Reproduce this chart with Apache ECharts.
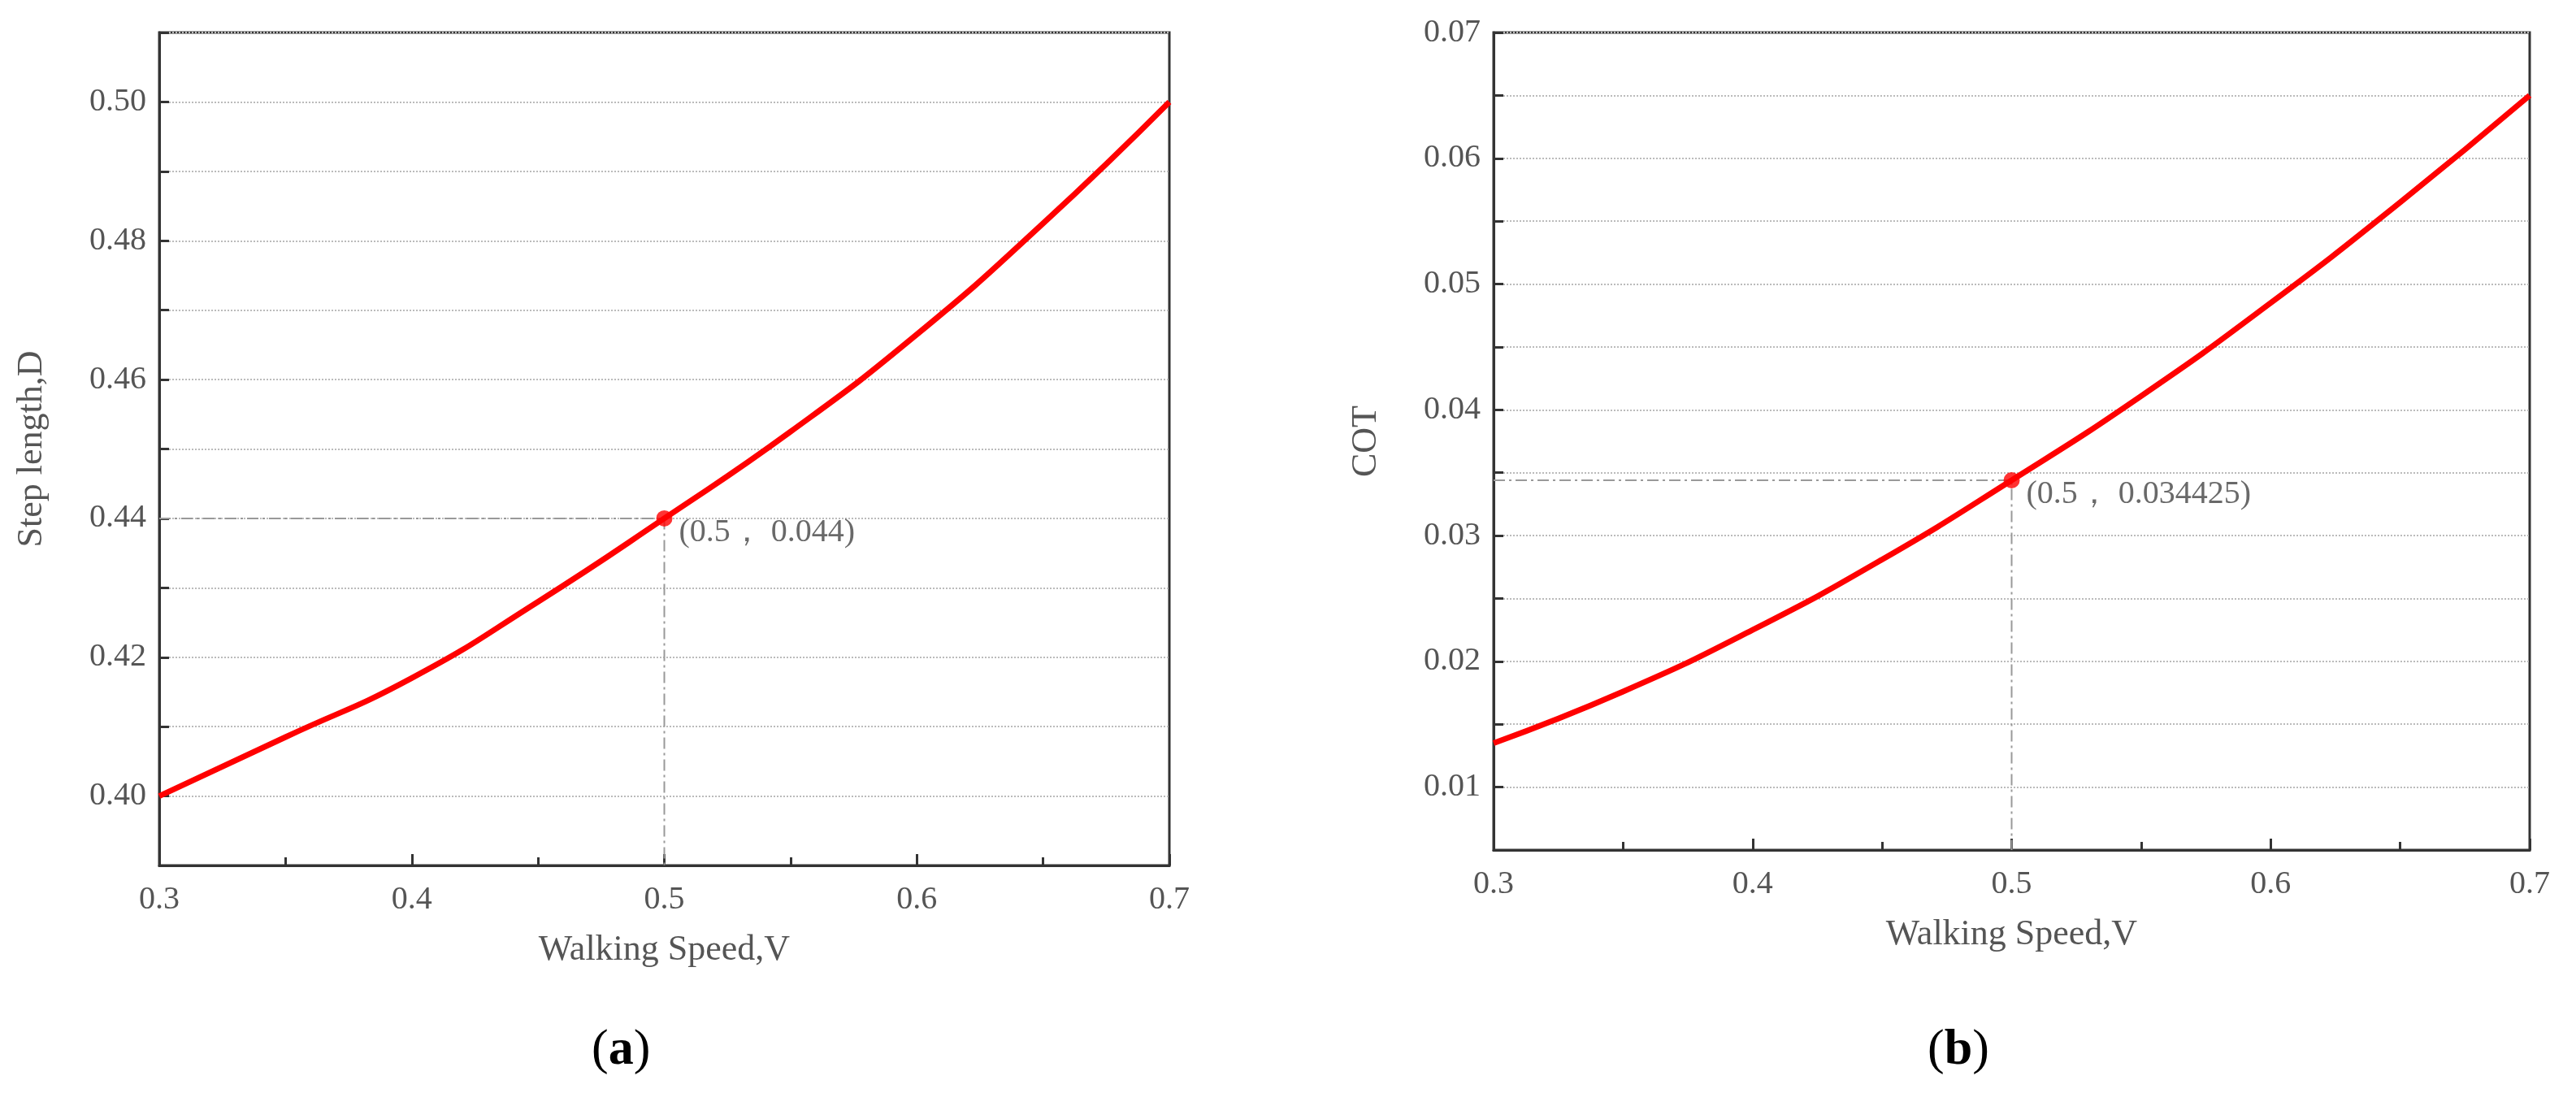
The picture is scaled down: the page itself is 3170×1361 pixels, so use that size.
<!DOCTYPE html>
<html lang="en">
<head>
  <meta charset="UTF-8">
  <title>Step length and COT</title>
  <script src="https://cdn.jsdelivr.net/npm/echarts@6.0.0/dist/echarts.min.js"></script>
  <style>html,body{margin:0;background:#fff;} #main{width:3170px;height:1361px;}</style>
</head>
<body>
  <div id="main"></div>
  <script type="text/javascript">
    var speed = [0.3, 0.35, 0.4, 0.45, 0.5, 0.55, 0.6, 0.65, 0.7];
    var stepLength = [0.400, 0.4085, 0.4170, 0.4280, 0.440, 0.4525, 0.4665, 0.4825, 0.500];
    var cot = [0.0135, 0.0176, 0.0225, 0.0281, 0.0344, 0.0411, 0.0485, 0.0565, 0.065];
    var stepTicks = [0.40, 0.42, 0.44, 0.46, 0.48, 0.50];
    var stepMinor = [0.39, 0.40, 0.41, 0.42, 0.43, 0.44, 0.45, 0.46, 0.47, 0.48, 0.49, 0.50, 0.51];
    var cotTicks = [0.01, 0.02, 0.03, 0.04, 0.05, 0.06, 0.07];
    var cotMinor = [0.01, 0.015, 0.02, 0.025, 0.03, 0.035, 0.04, 0.045, 0.05, 0.055, 0.06, 0.065, 0.07];
    var markA = [0.5, 0.44];
    var markB = [0.5, 0.0344];

    var font = 'Liberation Serif';
    var gray = '#555';

    function zip(xs, ys) {
      return xs.map(function (x, i) { return [x, ys[i]]; });
    }

    function xAxis(idx) {
      return {
        gridIndex: idx, type: 'value', min: 0.3, max: 0.7, interval: 0.1,
        name: 'Walking Speed,V', nameLocation: 'middle', nameGap: 82,
        nameTextStyle: { fontFamily: font, fontSize: 44, color: gray },
        axisLine: { lineStyle: { color: '#333', width: 3 } },
        axisTick: { inside: true, length: 14, lineStyle: { color: '#333', width: 3 } },
        minorTick: { show: true, splitNumber: 2, length: 10, lineStyle: { color: '#333', width: 3 } },
        axisLabel: { fontFamily: font, fontSize: 40, color: gray, margin: 22,
          formatter: function (v) { return v.toFixed(1); } },
        splitLine: { show: false }
      };
    }

    function yAxis(idx, name, min, max, ticks, minor, gap) {
      return {
        gridIndex: idx, type: 'value', min: min, max: max,
        name: name, nameLocation: 'middle', nameGap: gap,
        nameTextStyle: { fontFamily: font, fontSize: 44, color: gray },
        axisLine: { lineStyle: { color: '#333', width: 3 } },
        axisTick: { inside: true, length: 12, customValues: minor, lineStyle: { color: '#333', width: 3 } },
        axisLabel: { fontFamily: font, fontSize: 40, color: gray, margin: 16, customValues: ticks,
          formatter: function (v) { return v.toFixed(2); } },
        splitLine: { show: true, lineStyle: { color: '#bbb', type: 'dotted', width: 2 } }
      };
    }

    function guide(idx, pt, ymin) {
      return {
        type: 'line', xAxisIndex: idx, yAxisIndex: idx, symbol: 'none', silent: true,
        data: [[0.3, pt[1]], [pt[0], pt[1]], [pt[0], ymin]],
        lineStyle: { color: '#999', width: 2, type: [14, 5, 3, 5] }, z: 1
      };
    }

    function point(idx, pt, text) {
      return {
        type: 'scatter', xAxisIndex: idx, yAxisIndex: idx, symbolSize: 20,
        itemStyle: { color: '#f00' }, data: [pt], z: 5,
        label: { show: true, position: 'right', distance: 8, offset: [0, 18], formatter: text,
          fontFamily: font, fontSize: 40, color: '#444' }
      };
    }

    function curve(idx, ys) {
      return {
        type: 'line', xAxisIndex: idx, yAxisIndex: idx, smooth: 0.5, symbol: 'none',
        data: zip(speed, ys), lineStyle: { color: '#f00', width: 7 }, z: 3
      };
    }

    var caption = {
      fontFamily: font, fontSize: 62, fill: '#000',
      rich: { b: { fontFamily: font, fontSize: 62, fontWeight: 'bold', fill: '#000' } }
    };

    var myChart = echarts.init(document.getElementById('main'));
    myChart.setOption({
      backgroundColor: '#fff',
      animation: false,
      grid: [
        { left: 196, top: 40, width: 1243, height: 1025, show: true, borderColor: '#333', borderWidth: 3 },
        { left: 1838, top: 40, width: 1275, height: 1006, show: true, borderColor: '#333', borderWidth: 3 }
      ],
      xAxis: [xAxis(0), xAxis(1)],
      yAxis: [
        yAxis(0, 'Step length,D', 0.39, 0.51, stepTicks, stepMinor, 135),
        yAxis(1, 'COT', 0.005, 0.07, cotTicks, cotMinor, 135)
      ],
      series: [
        guide(0, markA, 0.39), curve(0, stepLength), point(0, markA, '(0.5\uFF0C 0.044)'),
        guide(1, markB, 0.005), curve(1, cot), point(1, markB, '(0.5\uFF0C 0.034425)')
      ],
      graphic: [
        { type: 'text', left: 728, top: 1262, style: Object.assign({ text: '({b|a})' }, caption) },
        { type: 'text', left: 2372, top: 1262, style: Object.assign({ text: '({b|b})' }, caption) }
      ]
    });

    window.onresize = function () {
      myChart.resize();
    };
  </script>
</body>
</html>
